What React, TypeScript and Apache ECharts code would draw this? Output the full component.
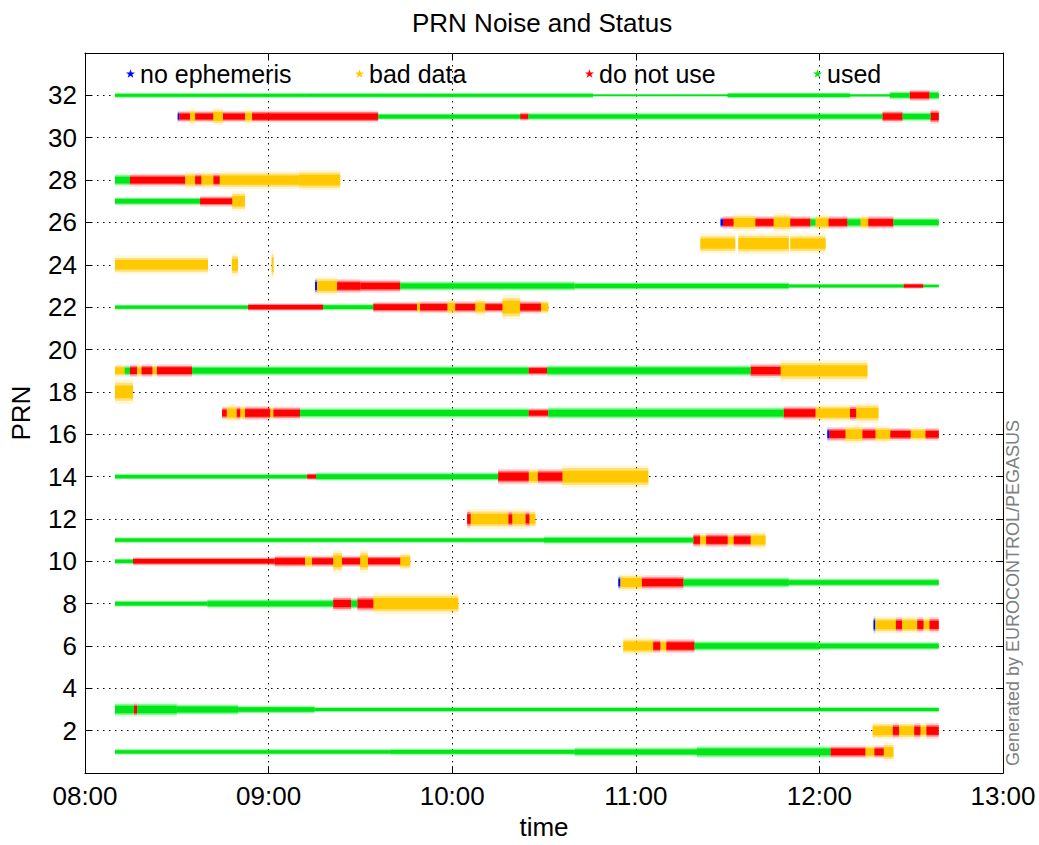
import React, { useEffect, useRef } from 'react';
import * as echarts from 'echarts';

// Segment: [start (minutes after 08:00), end (minutes after 08:00), status, noise spread (PRN units)]
type Seg = [number, number, string, number];

const STATUS_KEYS = ['N', 'B', 'D', 'U'];
const STATUS_NAMES = ['no ephemeris', 'bad data', 'do not use', 'used'];
const STATUS_COLORS = ['#0000ff', '#ffc800', '#ff0000', '#00e619'];

const X_TICK_LABELS = ['08:00', '09:00', '10:00', '11:00', '12:00', '13:00'];
const Y_TICK_LABELS = [2, 4, 6, 8, 10, 12, 14, 16, 18, 20, 22, 24, 26, 28, 30, 32];

const prn32: Seg[] = [[9.8, 72, 'U', 0.2], [72, 166, 'U', 0.2], [166, 210, 'U', 0.1], [210, 250, 'U', 0.22], [250, 263, 'U', 0.12], [263, 269.5, 'U', 0.3], [269.5, 276, 'D', 0.4], [276, 279, 'U', 0.35]];
const prn31: Seg[] = [[30.3, 30.8, 'N', 0.4], [30.8, 34.3, 'D', 0.4], [34.3, 36, 'B', 0.55], [36, 41.9, 'D', 0.4], [41.9, 45.1, 'B', 0.6], [45.1, 52.3, 'D', 0.4], [52.3, 54.6, 'B', 0.5], [54.6, 95.8, 'D', 0.42], [95.8, 142.2, 'U', 0.25], [142.2, 144.9, 'D', 0.3], [144.9, 260.6, 'U', 0.28], [260.6, 267.2, 'D', 0.42], [267.2, 276.3, 'U', 0.35], [276.3, 279, 'D', 0.5]];
const prn28: Seg[] = [[9.8, 14.7, 'U', 0.45], [14.7, 32.7, 'D', 0.45], [32.7, 36, 'B', 0.6], [36, 38, 'D', 0.5], [38, 42, 'B', 0.6], [42, 44, 'D', 0.5], [44, 70, 'B', 0.62], [70, 83.4, 'B', 0.72]];
const prn27: Seg[] = [[9.8, 37.6, 'U', 0.3], [37.6, 48.1, 'D', 0.38], [48.1, 52.3, 'B', 0.7]];
const prn26: Seg[] = [[207.7, 208.5, 'N', 0.4], [208.5, 211.9, 'D', 0.45], [211.9, 219.1, 'B', 0.6], [219.1, 225, 'D', 0.45], [225, 230.5, 'B', 0.65], [230.5, 237.1, 'D', 0.45], [237.1, 238.7, 'U', 0.4], [238.7, 243, 'B', 0.55], [243, 249.2, 'D', 0.45], [249.2, 253.4, 'U', 0.4], [253.4, 256, 'B', 0.5], [256, 264.2, 'D', 0.45], [264.2, 279, 'U', 0.35]];
const prn25: Seg[] = [[201.1, 212.5, 'B', 0.7], [213.5, 230, 'B', 0.75], [230.5, 242, 'B', 0.7]];
const prn24: Seg[] = [[9.8, 40.2, 'B', 0.65], [48, 50, 'B', 0.8], [61, 61.6, 'B', 1.0]];
const prn23: Seg[] = [[75.2, 75.8, 'N', 0.55], [75.8, 82.4, 'B', 0.65], [82.4, 90, 'D', 0.5], [90, 103, 'D', 0.45], [103, 160, 'U', 0.35], [160, 230, 'U', 0.28], [230, 267.5, 'U', 0.18], [267.5, 274, 'D', 0.2], [274, 279, 'U', 0.15]];
const prn22: Seg[] = [[9.8, 53.3, 'U', 0.2], [53.3, 77.8, 'D', 0.28], [77.8, 94.2, 'U', 0.25], [94.2, 108.5, 'D', 0.38], [108.5, 109.5, 'B', 0.5], [109.5, 118.4, 'D', 0.42], [118.4, 121, 'B', 0.55], [121, 127.5, 'D', 0.42], [127.5, 130.8, 'B', 0.6], [130.8, 136.4, 'D', 0.4], [136.4, 142.2, 'B', 0.85], [142.2, 149, 'D', 0.45], [149, 151.4, 'B', 0.5]];
const prn19: Seg[] = [[9.8, 13, 'B', 0.45], [13, 14.7, 'U', 0.4], [14.7, 17, 'D', 0.45], [17, 18.5, 'B', 0.45], [18.5, 22, 'D', 0.45], [22, 23.5, 'B', 0.45], [23.5, 35, 'D', 0.45], [35, 144.9, 'U', 0.38], [144.9, 151, 'D', 0.35], [151, 217.5, 'U', 0.42], [217.5, 227.3, 'D', 0.5], [227.3, 255.7, 'B', 0.75]];
const prn18: Seg[] = [[9.8, 15.7, 'B', 0.85]];
const prn17: Seg[] = [[44.8, 46.3, 'D', 0.45], [46.3, 49.6, 'B', 0.6], [49.6, 50.7, 'D', 0.5], [50.7, 52.3, 'B', 0.55], [52.3, 60.5, 'D', 0.5], [60.5, 61.6, 'B', 0.5], [61.6, 70.3, 'D', 0.45], [70.3, 144.9, 'U', 0.4], [144.9, 151.4, 'D', 0.35], [151.4, 228.3, 'U', 0.45], [228.3, 238.7, 'D', 0.5], [238.7, 250, 'B', 0.6], [250, 252, 'D', 0.55], [252, 259.3, 'B', 0.7]];
const prn16: Seg[] = [[242.6, 243.3, 'N', 0.5], [243.3, 248.5, 'D', 0.5], [248.5, 254.1, 'B', 0.65], [254.1, 258.3, 'D', 0.5], [258.3, 263.2, 'B', 0.6], [263.2, 269.8, 'D', 0.45], [269.8, 274.7, 'B', 0.5], [274.7, 279, 'D', 0.45]];
const prn14: Seg[] = [[9.8, 72.6, 'U', 0.22], [72.6, 75.5, 'D', 0.25], [75.5, 135, 'U', 0.32], [135, 145, 'D', 0.55], [145, 148, 'B', 0.6], [148, 156, 'D', 0.55], [156, 184.1, 'B', 0.8]];
const prn12: Seg[] = [[124.9, 126, 'D', 0.65], [126, 138.4, 'B', 0.7], [138.4, 139.6, 'D', 0.6], [139.6, 144, 'B', 0.7], [144, 145.2, 'D', 0.6], [145.2, 147.2, 'B', 0.65]];
const prn11: Seg[] = [[9.8, 150, 'U', 0.22], [150, 198.8, 'U', 0.3], [198.8, 201, 'D', 0.5], [201, 203, 'B', 0.5], [203, 210, 'D', 0.5], [210, 212, 'B', 0.5], [212, 217.5, 'D', 0.5], [217.5, 222.4, 'B', 0.6]];
const prn10: Seg[] = [[9.8, 15.7, 'U', 0.22], [15.7, 62, 'D', 0.3], [62, 71.9, 'D', 0.42], [71.9, 74.2, 'B', 0.5], [74.2, 81.1, 'D', 0.4], [81.1, 84, 'B', 0.8], [84, 89.9, 'D', 0.4], [89.9, 92.5, 'B', 0.8], [92.5, 103, 'D', 0.4], [103, 106.3, 'B', 0.6]];
const prn9: Seg[] = [[174.3, 175, 'N', 0.5], [175, 182, 'B', 0.6], [182, 195.6, 'D', 0.5], [195.6, 230, 'U', 0.4], [230, 279, 'U', 0.3]];
const prn8: Seg[] = [[9.8, 40, 'U', 0.24], [40, 81.1, 'U', 0.34], [81.1, 87, 'D', 0.5], [87, 89, 'U', 0.4], [89, 94.2, 'D', 0.55], [94.2, 122, 'B', 0.75]];
const prn7: Seg[] = [[257.7, 258.3, 'N', 0.6], [258.3, 265, 'B', 0.6], [265, 267, 'D', 0.55], [267, 272, 'B', 0.6], [272, 274, 'D', 0.55], [274, 276, 'B', 0.55], [276, 279, 'D', 0.55]];
const prn6: Seg[] = [[175.9, 185.7, 'B', 0.6], [185.7, 188, 'D', 0.5], [188, 190, 'B', 0.5], [190, 199.2, 'D', 0.5], [199.2, 240, 'U', 0.38], [240, 279, 'U', 0.3]];
const prn3: Seg[] = [[9.8, 16, 'U', 0.5], [16, 17, 'D', 0.5], [17, 30, 'U', 0.5], [30, 50, 'U', 0.4], [50, 75, 'U', 0.3], [75, 279, 'U', 0.2]];
const prn2: Seg[] = [[257.4, 264, 'B', 0.6], [264, 266, 'D', 0.55], [266, 271, 'B', 0.6], [271, 273, 'D', 0.55], [273, 275, 'B', 0.55], [275, 279, 'D', 0.55]];
const prn1: Seg[] = [[9.8, 100, 'U', 0.22], [100, 160, 'U', 0.25], [160, 200, 'U', 0.34], [200, 243.6, 'U', 0.45], [243.6, 255, 'D', 0.45], [255, 258, 'B', 0.5], [258, 261, 'D', 0.45], [261, 264.2, 'B', 0.65]];

const PRN_SEGMENTS: [number, Seg[]][] = [
  [32, prn32], [31, prn31], [28, prn28], [27, prn27], [26, prn26], [25, prn25], [24, prn24],
  [23, prn23], [22, prn22], [19, prn19], [18, prn18], [17, prn17], [16, prn16], [14, prn14],
  [12, prn12], [11, prn11], [10, prn10], [9, prn9], [8, prn8], [7, prn7], [6, prn6], [3, prn3],
  [2, prn2], [1, prn1],
];

const FONT = "'Liberation Sans', Arial, Helvetica, sans-serif";

export default function App() {
  const ref = useRef<HTMLDivElement>(null);

  useEffect(() => {
    if (!ref.current) return;
    const chart = echarts.init(ref.current, undefined, { renderer: 'svg' });

    const series = STATUS_KEYS.map((key, si) => {
      const data: number[][] = [];
      PRN_SEGMENTS.forEach(([prn, segs]) => {
        segs.forEach((s) => {
          if (s[2] === key) data.push([s[0], s[1], prn, s[3]]);
        });
      });
      const color = STATUS_COLORS[si];
      return {
        type: 'custom',
        name: STATUS_NAMES[si],
        itemStyle: { color },
        encode: { x: [0, 1], y: 2 },
        data,
        renderItem: (params: any, api: any) => {
          const x0 = api.value(0);
          const x1 = api.value(1);
          const y = api.value(2);
          const t = api.value(3);
          const layers = [
            { k: 1.35, o: 0.15 },
            { k: 1.0, o: 0.45 },
            { k: 0.7, o: 1 },
          ];
          return {
            type: 'group',
            children: layers.map((l) => {
              const a = api.coord([x0, y + (t * l.k) / 2]);
              const b = api.coord([x1, y - (t * l.k) / 2]);
              return {
                type: 'rect',
                shape: { x: a[0], y: a[1], width: Math.max(1, b[0] - a[0]), height: b[1] - a[1] },
                style: { fill: color, opacity: l.o },
              };
            }),
          };
        },
      };
    });

    const legendStar =
      'path://M5,0 L6.2,3.6 L10,3.6 L7,5.9 L8.1,9.5 L5,7.3 L1.9,9.5 L3,5.9 L0,3.6 L3.8,3.6 Z';
    const legendLefts = [126, 355, 585, 813];

    const axisCommon = {
      axisLine: { show: true, onZero: false, lineStyle: { color: '#000', width: 1 } },
      axisTick: { show: true, inside: true, length: 7, lineStyle: { color: '#000' } },
    };

    chart.setOption({
      animation: false,
      backgroundColor: '#fff',
      title: {
        text: 'PRN Noise and Status',
        left: 407,
        top: 5,
        textStyle: { fontFamily: FONT, fontSize: 26, fontWeight: 'normal', color: '#000' },
      },
      legend: STATUS_NAMES.map((name, i) => ({
        data: [name],
        left: legendLefts[i],
        top: 61,
        padding: 0,
        icon: legendStar,
        itemWidth: 9,
        itemHeight: 9,
        selectedMode: false,
        textStyle: { fontFamily: FONT, fontSize: 25, color: '#000' },
      })),
      grid: { left: 85, top: 53, width: 918, height: 724, containLabel: false },
      xAxis: [
        {
          type: 'value',
          position: 'bottom',
          min: 0,
          max: 300,
          interval: 60,
          ...axisCommon,
          axisLabel: {
            formatter: (v: number) => X_TICK_LABELS[Math.round(v / 60)] ?? '',
            fontFamily: FONT,
            fontSize: 26,
            color: '#000',
            margin: 10,
            showMinLabel: true,
            showMaxLabel: true,
          },
          splitLine: { show: true, lineStyle: { type: [1.5, 4.5], color: '#000', width: 1 } },
          name: 'time',
          nameLocation: 'middle',
          nameGap: 40,
          nameTextStyle: { fontFamily: FONT, fontSize: 26, color: '#000' },
        },
        {
          type: 'value',
          position: 'top',
          min: 0,
          max: 300,
          interval: 60,
          ...axisCommon,
          axisLabel: { show: false },
          splitLine: { show: false },
        },
      ],
      yAxis: [
        {
          type: 'value',
          position: 'left',
          min: 0,
          max: 34,
          interval: 2,
          ...axisCommon,
          axisLabel: {
            formatter: (v: number) => (Y_TICK_LABELS.includes(v) ? String(v) : ''),
            fontFamily: FONT,
            fontSize: 26,
            color: '#000',
            margin: 8,
          },
          splitLine: { show: true, lineStyle: { type: [1.5, 4.5], color: '#000', width: 1 } },
          name: 'PRN',
          nameLocation: 'middle',
          nameGap: 51,
          nameTextStyle: { fontFamily: FONT, fontSize: 26, color: '#000' },
        },
        {
          type: 'value',
          position: 'right',
          min: 0,
          max: 34,
          interval: 2,
          ...axisCommon,
          axisLabel: { show: false },
          splitLine: { show: false },
        },
      ],
      graphic: [
        {
          type: 'text',
          x: 1013,
          y: 593,
          rotation: Math.PI / 2,
          style: {
            text: 'Generated by EUROCONTROL/PEGASUS',
            fontFamily: FONT,
            fontSize: 18,
            fill: '#7f7f7f',
            align: 'center',
            verticalAlign: 'middle',
          },
        },
      ],
      series,
    });

    return () => chart.dispose();
  }, []);

  return (
    <div
      ref={ref}
      style={{ position: 'fixed', left: 0, top: 0, width: 1039, height: 845, background: '#fff' }}
    />
  );
}
